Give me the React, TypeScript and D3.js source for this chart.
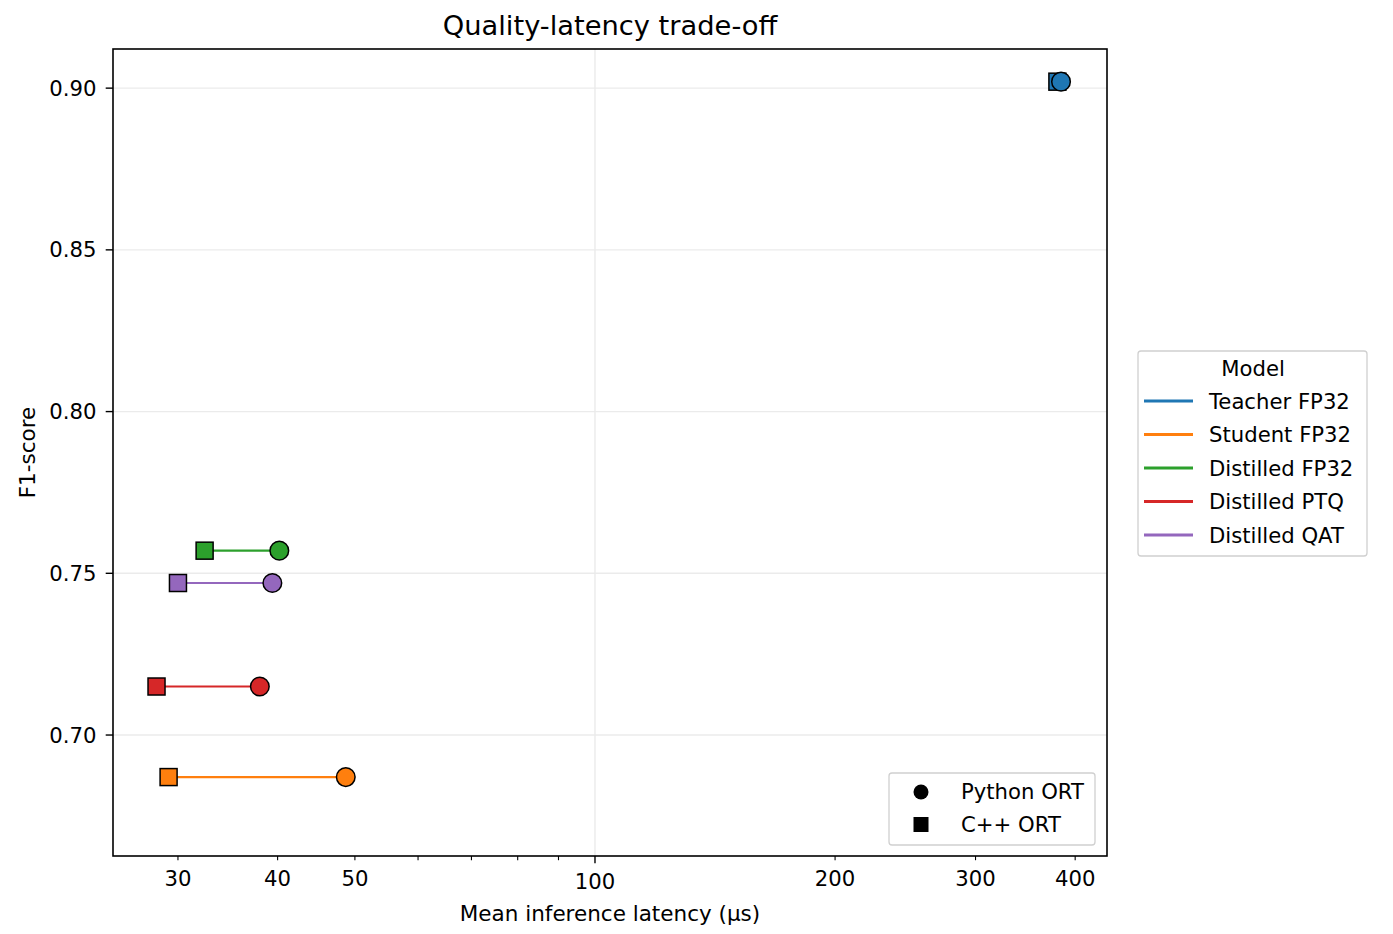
import React from "react";
import * as d3 from "d3";

const models = ["Teacher FP32", "Student FP32", "Distilled FP32", "Distilled PTQ", "Distilled QAT"];
const colors = ["#1f77b4", "#ff7f0e", "#2ca02c", "#d62728", "#9467bd"];
const pythonLatency = [384, 48.7, 40.2, 38.0, 39.4];
const cppLatency = [380, 29.2, 32.4, 28.2, 30.0];
const f1Scores = [0.902, 0.687, 0.757, 0.715, 0.747];
const xTickValues = [30, 40, 50, 100, 200, 300, 400];
const xMinorUnlabeled = [60, 70, 80, 90];
const yTickValues = [0.7, 0.75, 0.8, 0.85, 0.9];

const W = 1393, H = 934;
const left = 113, right = 1107, top = 49, bottom = 856;
const FONT = "DejaVu Sans, sans-serif";
const FS = 21.2;

export default function App() {
  const x = d3.scaleLog().domain([24.87, 438.5]).range([left, right]);
  const y = d3.scaleLinear().domain([0.6626, 0.9121]).range([bottom, top]);
  const fmtY = d3.format(".2f");
  return (
    <svg width={W} height={H} style={{ position: "absolute", left: 0, top: 0 }} fontFamily={FONT}>
      <rect x={0} y={0} width={W} height={H} fill="#fff" />
      {/* grid */}
      {yTickValues.map((v) => (
        <line key={"gy" + v} x1={left} x2={right} y1={y(v)} y2={y(v)} stroke="#ebebeb" strokeWidth={1.4} />
      ))}
      <line x1={x(100)} x2={x(100)} y1={top} y2={bottom} stroke="#ebebeb" strokeWidth={1.4} />
      {/* connecting lines */}
      {models.map((m, i) => (
        <line key={"l" + m} x1={x(cppLatency[i])} x2={x(pythonLatency[i])} y1={y(f1Scores[i])} y2={y(f1Scores[i])} stroke={colors[i]} strokeWidth={2.1} />
      ))}
      {/* squares (C++) */}
      {models.map((m, i) => (
        <rect key={"s" + m} x={x(cppLatency[i]) - 8.5} y={y(f1Scores[i]) - 8.5} width={17} height={17} fill={colors[i]} stroke="#000" strokeWidth={1.5} />
      ))}
      {/* circles (Python) */}
      {models.map((m, i) => (
        <circle key={"c" + m} cx={x(pythonLatency[i])} cy={y(f1Scores[i])} r={9.3} fill={colors[i]} stroke="#000" strokeWidth={1.5} />
      ))}
      {/* axes frame */}
      <rect x={left} y={top} width={right - left} height={bottom - top} fill="none" stroke="#000" strokeWidth={1.6} />
      {/* x ticks */}
      {xTickValues.map((v) => {
        const major = v === 100;
        return (
          <g key={"xt" + v}>
            <line x1={x(v)} x2={x(v)} y1={bottom} y2={bottom + (major ? 7.3 : 4.2)} stroke="#000" strokeWidth={major ? 1.4 : 1.1} />
            <text x={x(v)} y={major ? 889 : 886} textAnchor="middle" fontSize={FS} fill="#000">{v}</text>
          </g>
        );
      })}
      {xMinorUnlabeled.map((v) => (
        <line key={"xm" + v} x1={x(v)} x2={x(v)} y1={bottom} y2={bottom + 4.2} stroke="#000" strokeWidth={1.1} />
      ))}
      {/* y ticks */}
      {yTickValues.map((v) => (
        <g key={"yt" + v}>
          <line x1={left - 7.3} x2={left} y1={y(v)} y2={y(v)} stroke="#000" strokeWidth={1.4} />
          <text x={left - 16.5} y={y(v) + 7.5} textAnchor="end" fontSize={FS} fill="#000">{fmtY(v)}</text>
        </g>
      ))}
      {/* labels */}
      <text x={(left + right) / 2} y={921} textAnchor="middle" fontSize={21.5}>Mean inference latency (μs)</text>
      <text transform={`translate(35,${(top + bottom) / 2}) rotate(-90)`} textAnchor="middle" fontSize={21.5}>F1-score</text>
      <text x={(left + right) / 2} y={35} textAnchor="middle" fontSize={27.3}>Quality-latency trade-off</text>
      {/* model legend */}
      <rect x={1138} y={351} width={229} height={205} rx={3} fill="#fff" stroke="#d0d0d0" strokeWidth={1.3} />
      <text x={1253} y={376} textAnchor="middle" fontSize={FS}>Model</text>
      {models.map((m, i) => {
        const ly = 401 + i * 33.5;
        return (
          <g key={"lg" + m}>
            <line x1={1144} x2={1193} y1={ly} y2={ly} stroke={colors[i]} strokeWidth={3.2} />
            <text x={1209} y={ly + 7.5} fontSize={FS}>{m}</text>
          </g>
        );
      })}
      {/* marker legend */}
      <rect x={889} y={773} width={206} height={72} rx={3} fill="#fff" stroke="#d0d0d0" strokeWidth={1.3} />
      <circle cx={921} cy={792} r={7.5} fill="#000" />
      <text x={961} y={799} fontSize={FS}>Python ORT</text>
      <rect x={913.5} y={817} width={15} height={15} fill="#000" />
      <text x={961} y={832} fontSize={FS}>C++ ORT</text>
    </svg>
  );
}
